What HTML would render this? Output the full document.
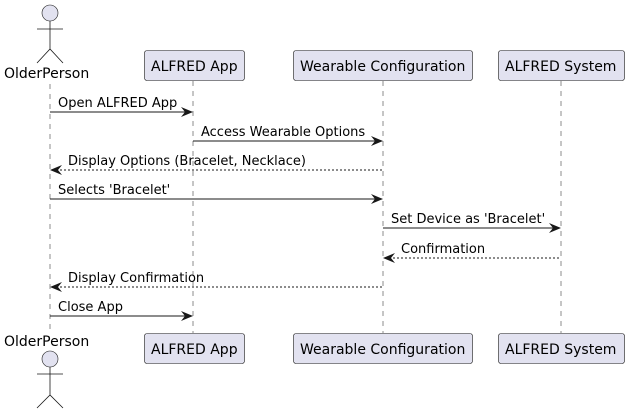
<!DOCTYPE html>
<html><head><meta charset="utf-8"><style>html,body{margin:0;padding:0;background:#fff}svg{display:block}</style></head><body>
<svg width="629" height="414" xmlns="http://www.w3.org/2000/svg" font-family="DejaVu Sans, sans-serif" font-size="13">
<g stroke="#181818" stroke-width="0.5" stroke-dasharray="5,5">
<line x1="50" y1="84" x2="50" y2="330"/>
<line x1="193" y1="81" x2="193" y2="333"/>
<line x1="383" y1="81" x2="383" y2="333"/>
<line x1="561" y1="81" x2="561" y2="333"/>
</g>
<g fill="#E2E2F0" stroke="#181818" stroke-width="0.6">
<circle cx="50" cy="13" r="8"/>
<circle cx="50" cy="359" r="8"/>
<rect x="144.5" y="50.5" width="100" height="30" rx="2.5"/>
<rect x="293.5" y="50.5" width="179" height="30" rx="2.5"/>
<rect x="498.5" y="50.5" width="126" height="30" rx="2.5"/>
<rect x="144.5" y="333.5" width="100" height="30" rx="2.5"/>
<rect x="293.5" y="333.5" width="179" height="30" rx="2.5"/>
<rect x="498.5" y="333.5" width="126" height="30" rx="2.5"/>
</g>
<g stroke="#181818" stroke-width="0.8" fill="none">
<path d="M50 21V49M37 29H63M37 63L50 49L63 63"/>
<path d="M50 367V395M37 374H63M37 408L50 395L63 408"/>
</g>
<g fill="#000" font-size="14">
<text x="4" y="78">OlderPerson</text>
<text x="4" y="346">OlderPerson</text>
<text x="151" y="71">ALFRED App</text>
<text x="300" y="71">Wearable Configuration</text>
<text x="505" y="71">ALFRED System</text>
<text x="151" y="354">ALFRED App</text>
<text x="300" y="354">Wearable Configuration</text>
<text x="505" y="354">ALFRED System</text>
</g>
<g stroke="#181818" stroke-width="1" fill="none">
<line x1="50" y1="112" x2="191" y2="112"/>
<line x1="193" y1="141" x2="381" y2="141"/>
<line x1="52" y1="170" x2="383" y2="170" stroke-dasharray="2,2"/>
<line x1="50" y1="199" x2="381" y2="199"/>
<line x1="383" y1="228" x2="559" y2="228"/>
<line x1="385" y1="258" x2="561" y2="258" stroke-dasharray="2,2"/>
<line x1="52" y1="287" x2="383" y2="287" stroke-dasharray="2,2"/>
<line x1="50" y1="316" x2="191" y2="316"/>
</g>
<g fill="#181818">
<path d="M193 112l-12-5 4 5-4 5z"/>
<path d="M383 141l-12-5 4 5-4 5z"/>
<path d="M50 170l12-5-4 5 4 5z"/>
<path d="M383 199l-12-5 4 5-4 5z"/>
<path d="M561 228l-12-5 4 5-4 5z"/>
<path d="M383 258l12-5-4 5 4 5z"/>
<path d="M50 287l12-5-4 5 4 5z"/>
<path d="M193 316l-12-5 4 5-4 5z"/>
</g>
<g fill="#000">
<text x="58" y="107">Open ALFRED App</text>
<text x="201" y="136">Access Wearable Options</text>
<text x="68" y="165">Display Options (Bracelet, Necklace)</text>
<text x="58" y="194">Selects 'Bracelet'</text>
<text x="391" y="223">Set Device as 'Bracelet'</text>
<text x="401" y="253">Confirmation</text>
<text x="68" y="282">Display Confirmation</text>
<text x="58" y="311">Close App</text>
</g>
</svg>
</body></html>
